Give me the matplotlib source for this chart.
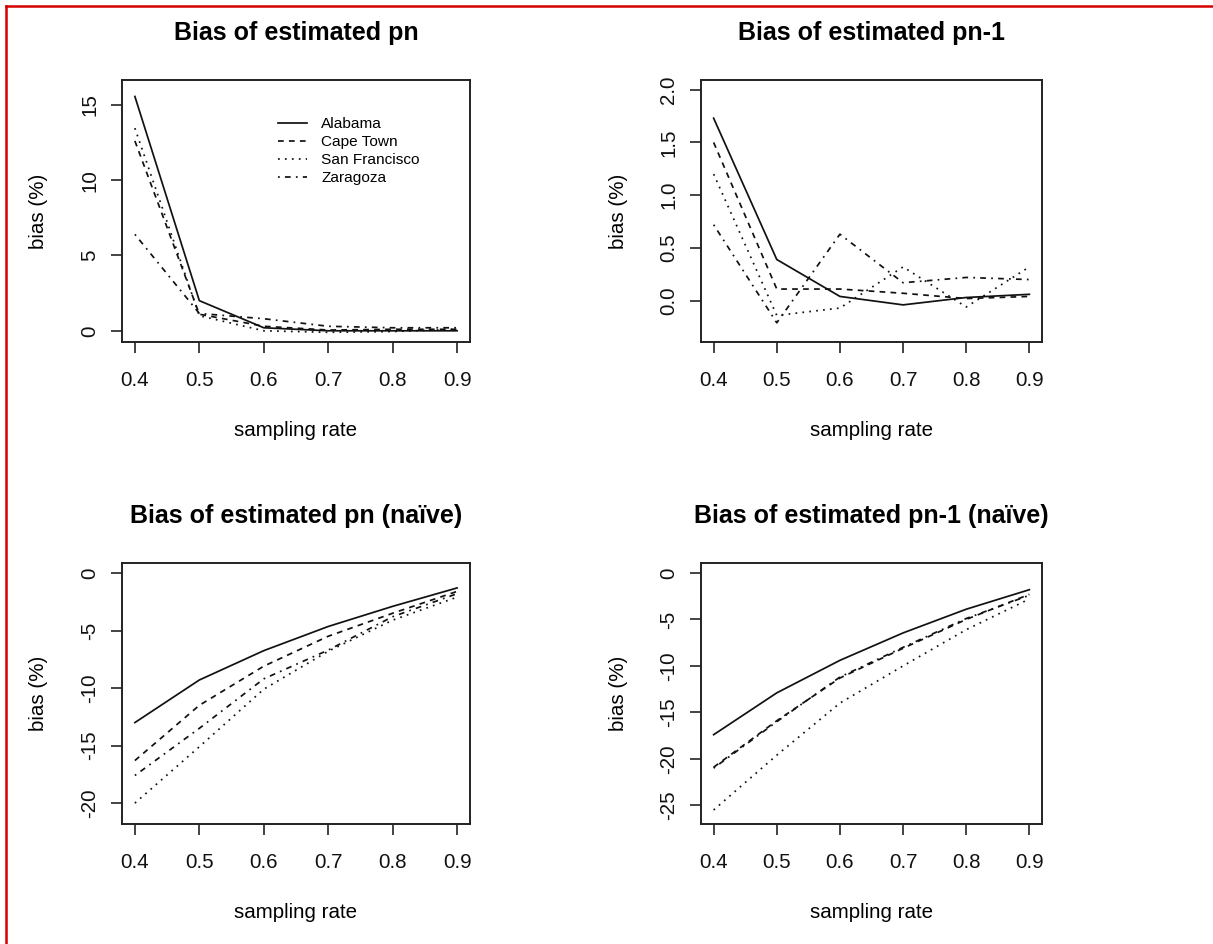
import matplotlib
matplotlib.use("Agg")
import matplotlib.pyplot as plt
from matplotlib.lines import Line2D
from matplotlib.ticker import FixedLocator, FixedFormatter

plt.rcParams['font.family'] = ['Liberation Sans', 'DejaVu Sans']

# ---------------- data ----------------
sampling_rate = [0.4, 0.5, 0.6, 0.7, 0.8, 0.9]
cities = ["Alabama", "Cape Town", "San Francisco", "Zaragoza"]

# Bias of estimated pn
pn_alabama = [15.55, 2.0, 0.2, 0.0, 0.0, 0.0]
pn_capetown = [12.6, 1.1, 0.3, 0.05, 0.1, 0.1]
pn_sanfran = [13.45, 1.0, 0.0, -0.1, -0.05, 0.1]
pn_zaragoza = [6.4, 1.15, 0.8, 0.3, 0.2, 0.2]

# Bias of estimated pn-1
pn1_alabama = [1.73, 0.39, 0.04, -0.04, 0.03, 0.06]
pn1_capetown = [1.50, 0.11, 0.11, 0.07, 0.02, 0.04]
pn1_sanfran = [1.20, -0.14, -0.07, 0.32, -0.06, 0.32]
pn1_zaragoza = [0.72, -0.21, 0.63, 0.17, 0.22, 0.20]

# Bias of estimated pn (naive)
pnn_alabama = [-13.0, -9.3, -6.75, -4.65, -2.9, -1.3]
pnn_capetown = [-16.3, -11.5, -8.1, -5.5, -3.5, -1.6]
pnn_sanfran = [-20.0, -15.1, -10.1, -6.8, -4.1, -2.1]
pnn_zaragoza = [-17.6, -13.5, -9.2, -6.7, -3.8, -1.8]

# Bias of estimated pn-1 (naive)
pn1n_alabama = [-17.4, -12.9, -9.4, -6.45, -3.9, -1.8]
pn1n_capetown = [-20.9, -15.9, -11.3, -8.1, -5.0, -2.3]
pn1n_sanfran = [-25.5, -19.6, -14.0, -10.0, -6.1, -2.8]
pn1n_zaragoza = [-21.0, -16.0, -11.2, -8.0, -4.9, -2.4]

titles = ["Bias of estimated pn", "Bias of estimated pn-1",
          "Bias of estimated pn (naïve)", "Bias of estimated pn-1 (naïve)"]
x_ticks = [0.4, 0.5, 0.6, 0.7, 0.8, 0.9]
x_ticklabels = ["0.4", "0.5", "0.6", "0.7", "0.8", "0.9"]
y_ticks = [[0, 5, 10, 15],
           [0.0, 0.5, 1.0, 1.5, 2.0],
           [-20, -15, -10, -5, 0],
           [-25, -20, -15, -10, -5, 0]]
y_ticklabels = [["0", "5", "10", "15"],
                ["0.0", "0.5", "1.0", "1.5", "2.0"],
                ["-20", "-15", "-10", "-5", "0"],
                ["-25", "-20", "-15", "-10", "-5", "0"]]
y_limits = [(-0.744, 16.644), (-0.392, 2.092), (-21.84, 0.84), (-27.04, 1.04)]
x_label = "sampling rate"
y_label = "bias (%)"

panels = [
    [pn_alabama, pn_capetown, pn_sanfran, pn_zaragoza],
    [pn1_alabama, pn1_capetown, pn1_sanfran, pn1_zaragoza],
    [pnn_alabama, pnn_capetown, pnn_sanfran, pnn_zaragoza],
    [pn1n_alabama, pn1n_capetown, pn1n_sanfran, pn1n_zaragoza],
]

# ---------------- layout ----------------
W, H = 1213, 944
fig = plt.figure(figsize=(W / 100, H / 100), dpi=100)
fig.patch.set_facecolor("white")

boxes_px = [  # left, top, right, bottom in pixels
    (122, 80, 470, 342),
    (701, 80, 1042, 342),
    (122, 563.3, 470, 824.3),
    (701, 563.3, 1042, 824.3),
]

styles = ["-", (0, (3.3, 3.0)), (0, (1.0, 3.0)), (0, (1.0, 3.0, 3.3, 3.0))]
lw = 1.25
fs = 14.8

for i, (l, t, r, b) in enumerate(boxes_px):
    ax = fig.add_axes([l / W, 1 - b / H, (r - l) / W, (b - t) / H])
    for series, ls, name in zip(panels[i], styles, cities):
        ax.plot(sampling_rate, series, color="#111111", lw=lw, linestyle=ls, label=name)
    ax.set_xlim(0.38, 0.92)
    ax.set_ylim(*y_limits[i])
    ax.xaxis.set_major_locator(FixedLocator(x_ticks))
    ax.xaxis.set_major_formatter(FixedFormatter(x_ticklabels))
    ax.yaxis.set_major_locator(FixedLocator(y_ticks[i]))
    ax.yaxis.set_major_formatter(FixedFormatter(y_ticklabels[i]))
    ax.tick_params(axis="both", direction="out", length=8, width=1.1,
                   labelsize=fs, colors="#111111")
    ax.tick_params(axis="x", pad=13)
    ax.tick_params(axis="y", pad=8.5)
    for lab in ax.get_yticklabels():
        lab.set_rotation(90)
        lab.set_va("center")
    for sp in ax.spines.values():
        sp.set_linewidth(1.4)
        sp.set_color("#222222")
    h = b - t
    wpx = r - l
    ax.set_xlabel(x_label, fontsize=fs)
    ax.xaxis.label.set_va("center")
    ax.xaxis.set_label_coords(0.5, -88 / h)
    ax.set_ylabel(y_label, fontsize=fs)
    ax.yaxis.label.set_va("center")
    ylab_x = 38 if i % 2 == 0 else 618
    ax.yaxis.set_label_coords((ylab_x - l) / wpx, 0.5)
    title_y = 33 if i < 2 else 516
    ax.text(0.5, (b - title_y) / h, titles[i], transform=ax.transAxes,
            ha="center", va="center", fontsize=18, fontweight="bold")
    if i == 0:
        ax.legend(loc="upper left", bbox_to_anchor=((278 - l) / wpx, (b - 117) / h),
                  frameon=False, fontsize=11.1, handlelength=1.85,
                  handletextpad=0.95, labelspacing=0.27, borderpad=0,
                  borderaxespad=0)

# red frame lines (left and top edges)
fig.add_artist(Line2D([6 / W, 1.0], [1 - 6 / H, 1 - 6 / H], transform=fig.transFigure,
                      color="#d40000", lw=1.8))
fig.add_artist(Line2D([6 / W, 6 / W], [0.0, 1 - 6 / H], transform=fig.transFigure,
                      color="#d40000", lw=1.8))

fig.savefig("out.png", dpi=100, facecolor="white")
